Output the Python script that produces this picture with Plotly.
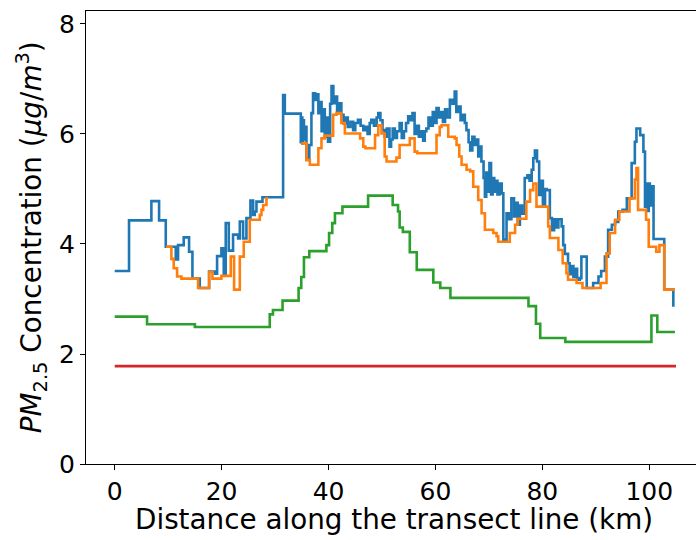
import plotly.graph_objects as go

# ---------------- data ----------------
blue_x = [0.0, 2.68, 6.86, 8.3, 9.55, 11.42, 11.85, 12.91, 13.91, 14.54, 15.91, 17.66, 18.72, 19.15,
          19.96, 20.40, 20.77, 21.34, 22.14, 23.08, 23.40, 24.02, 24.64, 25.39, 25.89, 26.2, 26.52,
          27.64, 31.5, 31.82, 34.81, 34.95, 35.1, 35.25, 35.4, 35.56, 35.87, 36.4, 36.8,
          37.1, 37.5, 37.8, 38.1, 38.4, 38.7, 39.0, 39.3, 39.6, 39.9, 40.3, 40.56, 40.9, 41.2, 41.6,
          42.0, 42.4, 42.8, 43.2, 43.6, 44.1, 44.6, 45.0, 45.5, 46.0, 46.5, 46.9, 47.3, 47.7, 48.0,
          48.5, 49.0, 49.3, 49.7, 50.1, 50.5, 50.9, 51.4, 51.7, 52.0, 52.4, 52.8, 53.3, 53.7, 54.1,
          54.5, 54.9, 55.3, 55.7, 56.1, 56.5, 56.9, 57.3, 57.7, 58.0, 58.3, 58.7, 59.1, 59.5, 59.9,
          60.2, 60.6, 61.0, 61.4, 61.8, 62.2, 62.7, 63.2, 63.6, 63.9, 64.3, 64.7, 65.1, 65.5, 65.8,
          66.2, 66.5, 66.9, 67.3, 67.7, 68.0, 68.3, 68.6, 69.0, 69.25, 69.5, 69.8, 70.1, 70.4, 70.7,
          71.0, 71.3, 71.6, 72.0, 72.4, 72.7, 73.3, 73.7, 74.2, 74.7, 75.0, 75.4, 75.8, 76.2, 76.7,
          77.2, 77.6, 78.0, 78.3, 78.6, 79.0, 79.4, 79.8, 80.1, 80.5, 80.8, 81.4, 81.8, 82.2, 82.6,
          83.0, 83.6, 83.9, 84.2, 84.8, 85.1, 85.4, 85.8, 86.1, 86.5, 87.0, 87.3, 88.3, 89.5, 90.5,
          91.0, 91.7, 92.3, 93.0, 93.6, 94.2, 95.0, 95.8, 96.7, 97.3, 97.6, 98.3, 98.9, 99.2, 99.5,
          99.7, 99.9, 100.1, 100.4, 100.8, 102.8, 104.5]
blue_y = [3.51, 4.43, 4.78, 4.43, 3.95, 3.72, 3.98, 4.12, 3.86, 3.37, 3.20, 3.50, 3.46, 3.78,
          3.92, 3.44, 4.38, 3.88, 4.17, 4.10, 4.41, 4.10, 4.47, 4.79, 4.53, 4.59, 4.77,
          4.85, 6.71, 6.37, 5.85, 6.30, 5.83, 6.25, 5.90, 6.13, 5.53, 5.80, 6.38,
          6.74, 6.62, 6.72, 6.38, 6.58, 6.05, 6.45, 5.95, 6.30, 5.86, 6.55, 6.87, 6.56, 6.68, 6.38,
          6.56, 6.35, 6.19, 6.30, 6.13, 6.22, 6.07, 6.20, 6.26, 6.15, 6.07, 6.13, 6.00, 6.20, 6.26,
          6.15, 6.30, 6.38, 6.25, 6.07, 5.95, 6.10, 5.77, 5.90, 6.10, 5.93, 6.05, 6.20, 5.93, 6.05,
          6.20, 6.32, 6.25, 6.38, 6.00, 6.15, 5.95, 6.05, 5.88, 6.05, 6.10, 6.30, 6.15, 6.40, 6.20,
          6.47, 6.30, 6.40, 6.22, 6.45, 6.30, 6.62, 6.55, 6.77, 6.40, 6.50, 6.25, 6.35, 6.20, 6.07,
          5.85, 5.70, 5.95, 5.80, 5.90, 5.59, 5.77, 5.50, 5.20, 4.86, 5.30, 4.95, 5.47, 4.90, 5.20,
          4.95, 5.15, 4.90, 5.10, 4.92, 4.08, 4.56, 4.45, 4.83, 4.50, 4.75, 4.35, 4.70, 4.55, 5.20,
          5.25, 5.15, 5.35, 5.56, 5.70, 5.50, 4.89, 5.15, 4.70, 5.00, 4.98, 4.47, 4.25, 4.45, 4.30,
          4.45, 4.32, 3.98, 3.82, 3.65, 3.45, 3.60, 3.40, 3.55, 3.35, 3.38, 3.77, 3.20, 3.29, 3.41,
          3.51, 3.77, 4.26, 4.35, 4.40, 4.59, 4.62, 4.83, 5.47, 5.86, 6.10, 5.98, 5.68, 4.68, 5.10,
          4.60, 5.10, 4.70, 5.05, 4.09, 3.17, 2.86]

orange_x = [9.6, 10.6, 11.04, 11.67, 12.48, 15.6, 17.66, 18.28, 19.96, 21.71, 22.33, 23.40, 24.14,
            25.27, 27.14, 27.45, 27.77, 28.39, 28.7, 31.0,
            34.9, 35.87, 36.5, 38.1, 38.68, 39.3, 40.86, 41.5, 42.4, 43.05, 45.9, 46.5, 46.9, 48.7,
            49.3, 49.9, 50.5, 50.85, 52.7, 53.3, 55.2, 56.1, 56.6, 60.2, 60.8, 61.14, 62.39, 63.6,
            63.95, 64.45, 64.89, 65.82, 66.5, 67.07, 68.0, 68.63, 69.25, 70.81, 71.43, 71.74, 73.9,
            74.9, 75.4, 77.0, 77.7, 78.3, 78.9, 81.1, 81.4, 83.0, 83.8, 84.5, 84.8, 86.4, 87.5, 90.9,
            92.0, 92.6, 93.6, 94.4, 96.3, 97.3, 97.6, 97.9, 99.4, 99.9, 101.3, 101.9, 102.8, 104.8]
orange_y = [3.95, 3.73, 3.56, 3.41, 3.37, 3.20, 3.49, 3.37, 3.42, 3.77, 3.17, 3.77, 4.04,
            4.44, 4.53, 4.62, 4.71, 4.83, 4.83, None,
            5.83, 5.53, 5.44, 5.74, 5.92, 5.97, 6.35, 6.38, 6.20, 6.01, 5.92, 5.77, 5.74, 5.98,
            6.16, 6.01, 5.59, 5.50, 5.57, 5.80, 5.92, 5.68, 5.65, 5.98, 6.13, 6.16, 5.95, 5.92,
            5.80, 5.59, 5.44, 5.35, 5.32, 5.04, 4.80, 4.56, 4.26, 4.20, 4.14, 4.04, 4.20,
            4.35, 4.46, 4.77, 4.98, 5.10, 4.68, 4.32, 4.11, 3.89, 3.65, 3.47, 3.35, 3.29, 3.20, 3.29,
            3.83, 4.20, 4.44, 4.59, 4.83, 5.17, 5.38, 4.62, 4.44, 3.95, 3.86, 3.98, 3.17, 3.17]

green_x = [0.0, 6.05, 15.0, 29.0, 29.6, 31.4, 34.4, 34.9, 35.4, 36.4, 39.6, 40.1, 40.7, 41.2, 42.6,
           47.4, 52.0, 53.0, 53.3, 53.9, 55.2, 56.5, 59.6, 60.9, 62.8, 77.4, 78.8, 79.6, 84.3,
           100.4, 101.5, 104.8]
green_y = [2.68, 2.54, 2.49, 2.72, 2.80, 2.97, 3.20, 3.40, 3.76, 3.87, 3.98, 4.20, 4.38, 4.56, 4.68,
           4.88, 4.71, 4.59, 4.30, 4.22, 3.85, 3.53, 3.30, 3.20, 3.02, 2.87, 2.55, 2.29, 2.22,
           2.70, 2.40, 2.40]

red_x = [0.0, 105.0]
red_y = [1.78, 1.78]

x_ticks = [0, 20, 40, 60, 80, 100]
y_ticks = [0, 2, 4, 6, 8]

# ---------------- figure ----------------
FONT = "DejaVu Sans"
fig = go.Figure()
for xs, ys, col in [(blue_x, blue_y, "#1f77b4"), (orange_x, orange_y, "#ff7f0e"),
                    (green_x, green_y, "#2ca02c"), (red_x, red_y, "#d62728")]:
    fig.add_trace(go.Scatter(x=xs, y=ys, mode="lines", line=dict(color=col, width=2.6, shape="hv"),
                             connectgaps=False, showlegend=False, hoverinfo="skip"))

axis_common = dict(showgrid=False, zeroline=False, showline=True, linecolor="black", linewidth=1.1,
                   ticks="outside", ticklen=5, tickwidth=1.1, tickcolor="black",
                   tickfont=dict(family=FONT, size=25, color="black"))
fig.update_xaxes(range=[-5.37, 108.74], tickvals=x_ticks, mirror=True, **axis_common)
fig.update_yaxes(range=[0, 8.236], tickvals=y_ticks, mirror=False, **axis_common)

fig.add_annotation(text="Distance along the transect line (km)", xref="paper", yref="paper",
                   x=(394 - 86.3) / 609.7, y=(464.3 - 520) / 453.3, xanchor="center", yanchor="middle",
                   showarrow=False, font=dict(family=FONT, size=27.8, color="black"))
fig.add_annotation(text="<i>PM</i><sub>2.5</sub> Concentration (<i>μg</i>/<i>m</i><sup>3</sup>)",
                   xref="paper", yref="paper", x=(32 - 86.3) / 609.7, y=0.5, textangle=-90,
                   xanchor="center", yanchor="middle", showarrow=False,
                   font=dict(family=FONT, size=27.8, color="black"))

fig.update_layout(width=696, height=540, margin=dict(l=86.3, r=0, t=11, b=75.7),
                  plot_bgcolor="white", paper_bgcolor="white", font=dict(family=FONT))
fig.write_html("out.html")
